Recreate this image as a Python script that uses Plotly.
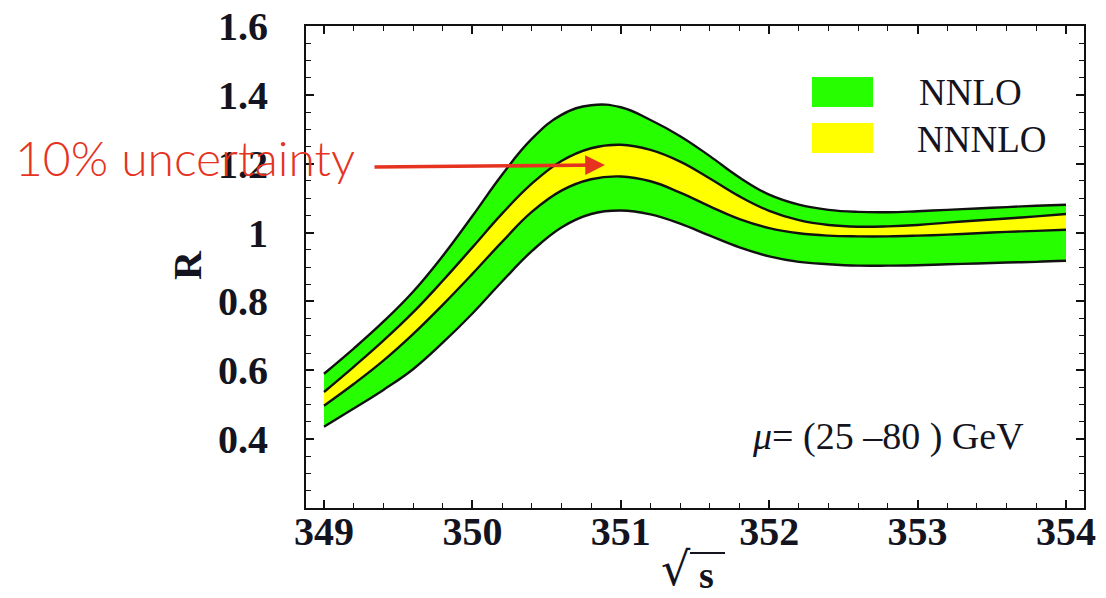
import plotly.graph_objects as go

# sqrt(s) grid in GeV
sqrt_s = [349.0, 349.2, 349.4, 349.6, 349.8, 350.0, 350.2, 350.4, 350.6, 350.8,
          351.0, 351.2, 351.4, 351.6, 351.8, 352.0, 352.2, 352.4, 352.6, 352.8,
          353.0, 353.2, 353.4, 353.6, 353.8, 354.0]

# NNLO band (scale variation mu = 25..80 GeV)
nnlo_hi = [0.590, 0.663, 0.741, 0.828, 0.932, 1.048, 1.168, 1.272, 1.342, 1.370,
           1.364, 1.327, 1.280, 1.222, 1.160, 1.110, 1.081, 1.066, 1.060, 1.059,
           1.062, 1.066, 1.070, 1.074, 1.078, 1.081]
nnlo_lo = [0.436, 0.489, 0.543, 0.603, 0.680, 0.765, 0.858, 0.946, 1.015, 1.054,
           1.064, 1.053, 1.026, 0.991, 0.957, 0.931, 0.915, 0.908, 0.904, 0.904,
           0.905, 0.908, 0.910, 0.913, 0.915, 0.918]

# NNNLO band
nnnlo_hi = [0.537, 0.610, 0.686, 0.768, 0.860, 0.957, 1.055, 1.142, 1.208, 1.245,
            1.255, 1.240, 1.206, 1.157, 1.105, 1.063, 1.036, 1.022, 1.017, 1.018,
            1.022, 1.029, 1.035, 1.041, 1.047, 1.054]
nnnlo_lo = [0.497, 0.560, 0.628, 0.705, 0.790, 0.880, 0.973, 1.060, 1.122, 1.155,
            1.163, 1.149, 1.116, 1.076, 1.039, 1.013, 0.998, 0.991, 0.989, 0.989,
            0.991, 0.994, 0.998, 1.002, 1.005, 1.008]

x_ticks = [349, 350, 351, 352, 353, 354]
y_ticks = [0.4, 0.6, 0.8, 1.0, 1.2, 1.4, 1.6]
y_tick_text = ["0.4", "0.6", "0.8", "1", "1.2", "1.4", "1.6"]

GREEN = "#27ff00"
YELLOW = "#ffff00"
INK = "#141420"
RED = "#e5331f"
SERIF = "Liberation Serif, Times New Roman, serif"

W, H = 1106, 598
ML, MR, MT, MB = 306, 22, 26, 90
PW, PH = W - ML - MR, H - MT - MB


def px(xp):
    return (xp - ML) / PW


def py(yp):
    return (H - MB - yp) / PH


fig = go.Figure()

line_fill = dict(width=0, shape="spline", smoothing=1.2)

# filled bands
fig.add_trace(go.Scatter(x=sqrt_s, y=nnlo_lo, mode="lines", line=line_fill,
                         showlegend=False, hoverinfo="skip"))
fig.add_trace(go.Scatter(x=sqrt_s, y=nnlo_hi, mode="lines", line=line_fill,
                         fill="tonexty", fillcolor=GREEN, showlegend=False, hoverinfo="skip"))
fig.add_trace(go.Scatter(x=sqrt_s, y=nnnlo_lo, mode="lines", line=line_fill,
                         showlegend=False, hoverinfo="skip"))
fig.add_trace(go.Scatter(x=sqrt_s, y=nnnlo_hi, mode="lines", line=line_fill,
                         fill="tonexty", fillcolor=YELLOW, showlegend=False, hoverinfo="skip"))

# black boundary curves on top
for curve in (nnlo_lo, nnlo_hi, nnnlo_lo, nnnlo_hi):
    fig.add_trace(go.Scatter(x=sqrt_s, y=curve, mode="lines",
                             line=dict(color="#111111", width=2.4, shape="spline", smoothing=1.2),
                             showlegend=False, hoverinfo="skip"))

axis_common = dict(
    showline=True, linecolor="#111111", linewidth=2.2, mirror="ticks",
    ticks="inside", ticklen=8, tickwidth=1.6, tickcolor="#111111",
    showgrid=False, zeroline=False, automargin=False,
    tickfont=dict(family=SERIF, size=40, color=INK, weight="bold"),
)

fig.update_xaxes(range=[348.8787, 354.1213], tickvals=x_ticks,
                 minor=dict(dtick=0.2, tick0=349, ticks="inside", ticklen=5,
                            tickwidth=1.4, tickcolor="#111111"),
                 ticklabelstandoff=-13, **axis_common)
fig.update_yaxes(range=[0.2, 1.6], tickvals=y_ticks, ticktext=y_tick_text,
                 minor=dict(dtick=0.05, tick0=0.2, ticks="inside", ticklen=5,
                            tickwidth=1.4, tickcolor="#111111"),
                 ticklabelstandoff=28, **axis_common)

shapes = [
    # legend swatches
    dict(type="rect", xref="paper", yref="paper", x0=px(812), x1=px(873), y0=py(107), y1=py(77),
         fillcolor=GREEN, line=dict(width=0)),
    dict(type="rect", xref="paper", yref="paper", x0=px(812), x1=px(873), y0=py(153), y1=py(123),
         fillcolor=YELLOW, line=dict(width=0)),
    # vinculum of the square root
    dict(type="line", xref="paper", yref="paper", x0=px(690), x1=px(725), y0=py(553), y1=py(553),
         line=dict(color=INK, width=2)),
]

annotations = [
    dict(text="NNLO", xref="paper", yref="paper", x=px(917), y=py(93), xanchor="left",
         yanchor="middle", showarrow=False, font=dict(family=SERIF, size=37, color=INK)),
    dict(text="NNNLO", xref="paper", yref="paper", x=px(915), y=py(139), xanchor="left",
         yanchor="middle", showarrow=False, font=dict(family=SERIF, size=37, color=INK)),
    dict(text="<i>μ</i>= (25 –80 ) GeV", xref="paper", yref="paper", x=px(750), y=py(436),
         xanchor="left", yanchor="middle", showarrow=False,
         font=dict(family=SERIF, size=38, color=INK)),
    dict(text="R", xref="paper", yref="paper", x=px(187), y=py(265), textangle=-90,
         xanchor="center", yanchor="middle", showarrow=False,
         font=dict(family=SERIF, size=40, color=INK, weight="bold")),
    # x-axis title: radical sign and bold s
    dict(text="√", xref="paper", yref="paper", x=px(676), y=py(598),
         xanchor="center", yanchor="bottom", showarrow=False,
         font=dict(family="DejaVu Serif, serif", size=46, color=INK)),
    dict(text="<b>s</b>", xref="paper", yref="paper", x=px(706), y=py(598),
         xanchor="center", yanchor="bottom", showarrow=False,
         font=dict(family=SERIF, size=38, color=INK)),
    # callout
    dict(text="10% uncertainty", xref="paper", yref="paper", x=px(357), y=py(157),
         xanchor="right", yanchor="middle", showarrow=False,
         font=dict(family="Lato, Open Sans, sans-serif", size=48, color=RED, weight=300)),
    dict(text="", xref="paper", yref="paper", x=px(605), y=py(165), ax=-232, ay=2,
         axref="pixel", ayref="pixel", showarrow=True, arrowhead=2, arrowsize=1.1,
         arrowwidth=3.6, arrowcolor=RED),
]

fig.update_layout(
    width=W, height=H,
    margin=dict(l=ML, r=MR, t=MT, b=MB),
    paper_bgcolor="white", plot_bgcolor="white",
    showlegend=False,
    shapes=shapes, annotations=annotations,
)

fig.write_html("out.html")
